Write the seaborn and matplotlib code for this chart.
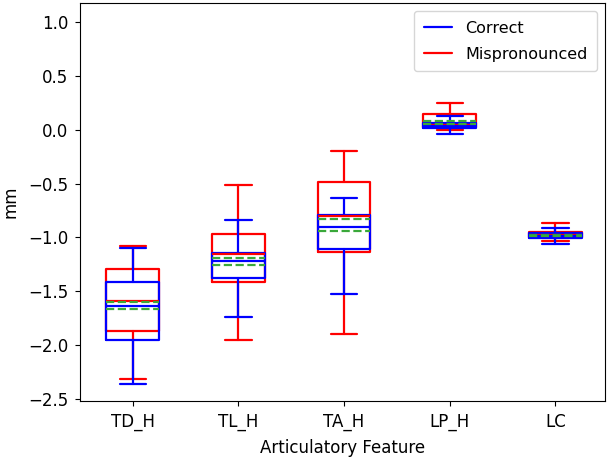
import matplotlib
matplotlib.use("Agg")
import matplotlib.pyplot as plt
from matplotlib.lines import Line2D
import seaborn as sns

features = ["TD_H", "TL_H", "TA_H", "LP_H", "LC"]

# Correct (blue)
c_whislo = [-2.361, -1.738, -1.527, -0.042, -1.059]
c_q1     = [-1.952, -1.381, -1.105,  0.014, -1.009]
c_med    = [-1.638, -1.223, -0.903,  0.033, -0.985]
c_mean   = [-1.666, -1.254, -0.938,  0.058, -0.985]
c_q3     = [-1.415, -1.140, -0.789,  0.064, -0.959]
c_whishi = [-1.093, -0.833, -0.633,  0.132, -0.916]

# Mispronounced (red)
m_whislo = [-2.314, -1.952, -1.896,  0.000, -1.030]
m_q1     = [-1.868, -1.412, -1.136,  0.027, -0.996]
m_med    = [-1.589, -1.150, -0.800,  0.048, -0.975]
m_mean   = [-1.602, -1.186, -0.829,  0.079, -0.975]
m_q3     = [-1.291, -0.963, -0.485,  0.151, -0.947]
m_whishi = [-1.078, -0.510, -0.200,  0.247, -0.866]

sns.set_style("ticks", {"axes.edgecolor": "black", "xtick.color": "black",
                        "ytick.color": "black", "text.color": "black",
                        "axes.labelcolor": "black"})
plt.rcParams['font.family'] = ['DejaVu Sans']

fig = plt.figure(figsize=(6.13, 4.63), dpi=100)
ax = fig.add_axes([80/613, 62/463, 525/613, 398/463])


def stats(wl, q1, med, mean, q3, wh):
    return [dict(whislo=a, q1=b, med=c, mean=d, q3=e, whishi=f, fliers=[])
            for a, b, c, d, e, f in zip(wl, q1, med, mean, q3, wh)]


positions = list(range(1, len(features) + 1))
for st, col in [(stats(m_whislo, m_q1, m_med, m_mean, m_q3, m_whishi), "red"),
                (stats(c_whislo, c_q1, c_med, c_mean, c_q3, c_whishi), "blue")]:
    lp = dict(color=col, linewidth=1.6)
    ax.bxp(st, positions=positions, widths=0.5, showmeans=True, meanline=True,
           boxprops=lp, whiskerprops=lp, capprops=lp, medianprops=lp,
           meanprops=dict(color="#3aa83a", linestyle="--", linewidth=1.6),
           manage_ticks=False)

ax.set_xticks(positions)
ax.set_xticklabels(features)
ax.set_xlim(0.5, 5.47)
ax.set_ylim(-2.52, 1.18)
ax.set_yticks([1.0, 0.5, 0.0, -0.5, -1.0, -1.5, -2.0, -2.5])
ax.tick_params(labelsize=12, pad=5)
ax.set_xlabel("Articulatory Feature", fontsize=12, labelpad=6)
ax.set_ylabel("mm", fontsize=12, labelpad=6)

handles = [Line2D([0], [0], color="blue", lw=1.6),
           Line2D([0], [0], color="red", lw=1.6)]
ax.legend(handles, ["Correct", "Mispronounced"], loc="upper right", fontsize=11.5,
          borderpad=0.6, labelspacing=0.7, handlelength=1.8)

fig.savefig("out.png", dpi=100)
